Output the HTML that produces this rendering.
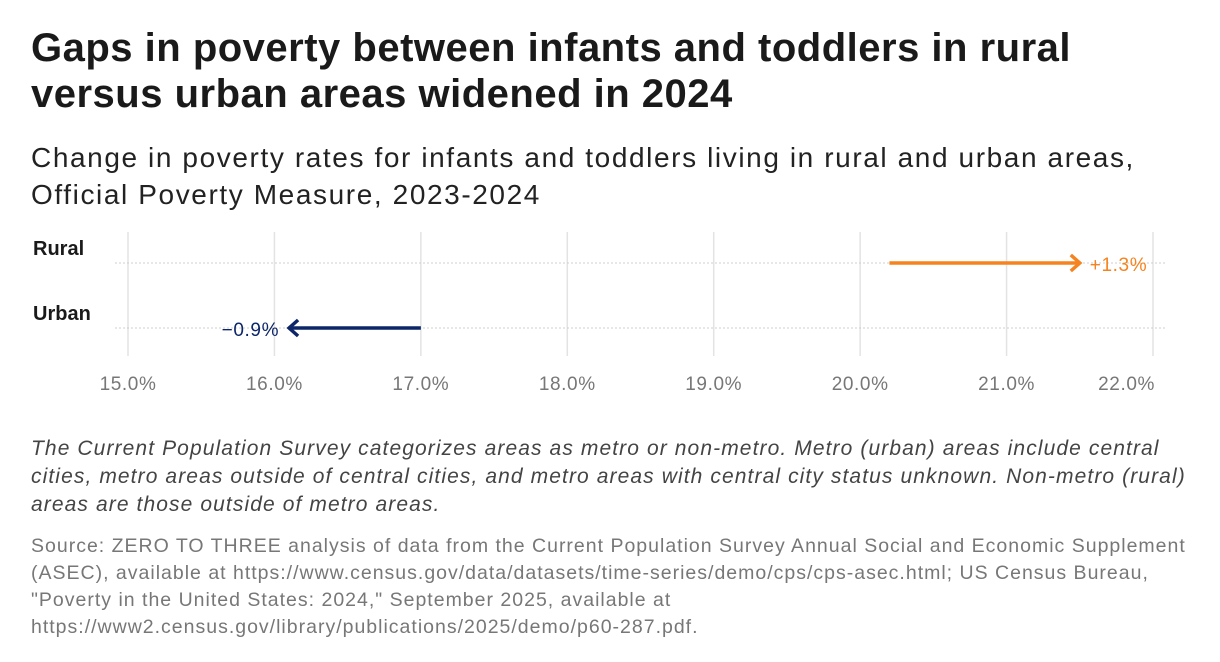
<!DOCTYPE html>
<html><head><meta charset="utf-8"><style>
body{margin:0;background:#fff;font-family:"Liberation Sans",sans-serif;width:1220px;height:662px;overflow:hidden;position:relative}
.t{position:absolute;left:31px;top:25px;font-size:40px;font-weight:bold;line-height:46px;color:#1a1a1a;white-space:nowrap;letter-spacing:0.5px}
.s{position:absolute;left:31px;top:139px;font-size:28px;line-height:37px;color:#222;white-space:nowrap;letter-spacing:1.6px}
.n{position:absolute;left:31px;top:435px;font-size:21px;font-style:italic;line-height:28px;color:#444;white-space:nowrap;letter-spacing:1.1px}
.src{position:absolute;left:31px;top:533px;font-size:19.5px;line-height:27px;color:#777;white-space:nowrap;letter-spacing:1px}
svg{position:absolute;left:0;top:0}
</style></head><body>
<div class="t">Gaps in poverty between infants and toddlers in rural<br>versus urban areas widened in 2024</div>
<div class="s">Change in poverty rates for infants and toddlers living in rural and urban areas,<br>Official Poverty Measure, 2023-2024</div>
<svg id="c" width="1220" height="662"></svg>
<div class="n">The Current Population Survey categorizes areas as metro or non-metro. Metro (urban) areas include central<br>cities, metro areas outside of central cities, and metro areas with central city status unknown. Non-metro (rural)<br>areas are those outside of metro areas.</div>
<div class="src">Source: ZERO TO THREE analysis of data from the Current Population Survey Annual Social and Economic Supplement<br>(ASEC), available at https://www.census.gov/data/datasets/time-series/demo/cps/cps-asec.html; US Census Bureau,<br>"Poverty in the United States: 2024," September 2025, available at<br>https://www2.census.gov/library/publications/2025/demo/p60-287.pdf.</div>
<script>
const categories=["Rural","Urban"];
const start2023=[20.2,17.0];
const end2024=[21.5,16.1];
const changeLabels=["+1.3%","\u22120.9%"];
const colors=["#f5831f","#0d2669"];
const ticks=[15,16,17,18,19,20,21,22];
const svg=document.getElementById('c');
const NS="http://www.w3.org/2000/svg";
const x=v=>128+(v-15)*(1153-128)/7;
const rowY=[263,328];
function mk(t,a){const e=document.createElementNS(NS,t);for(const k in a)e.setAttribute(k,a[k]);svg.appendChild(e);return e;}
ticks.forEach((t,i)=>{
 const g=mk('line',{x1:x(t),x2:x(t),y1:232,y2:356,stroke:'#e3e3e3','stroke-width':1.5});
 
 
 const last=i===ticks.length-1;
 const l=mk('text',{x:last?x(t)+2:x(t),y:390,'text-anchor':last?'end':'middle','font-size':19,fill:'#777','font-family':'Liberation Sans, sans-serif','letter-spacing':'0.6'});
 l.textContent=t.toFixed(1)+'%';
 
 
});
categories.forEach((c,i)=>{
 const y=rowY[i];
 const d=mk('line',{x1:115,x2:1166,y1:y,y2:y,stroke:'#cfcfcf','stroke-width':1,'stroke-dasharray':'2,2'});
 
 
 const lab=mk('text',{x:33,y:y-8,'font-size':20,'font-weight':'bold',fill:'#1a1a1a','font-family':'Liberation Sans, sans-serif'});
 lab.textContent=c;
 
 
 const x0=x(start2023[i]),x1=x(end2024[i]),dir=x1>x0?1:-1;
 const ln=mk('line',{x1:x0,x2:x1-dir*2,y1:y,y2:y,stroke:colors[i],'stroke-width':3.5});
 
 
 const hd=mk('polyline',{points:`${x1-dir*9},${y-8} ${x1},${y} ${x1-dir*9},${y+8}`,fill:'none',stroke:colors[i],'stroke-width':3.5,'stroke-linejoin':'miter'});
 
 
 const v=mk('text',{x:x1+dir*10,y:y+8,'text-anchor':dir>0?'start':'end','font-size':19,fill:colors[i],'font-family':'Liberation Sans, sans-serif','letter-spacing':'0.6'});
 v.textContent=changeLabels[i];
 
 
});
</script>
</body></html>
